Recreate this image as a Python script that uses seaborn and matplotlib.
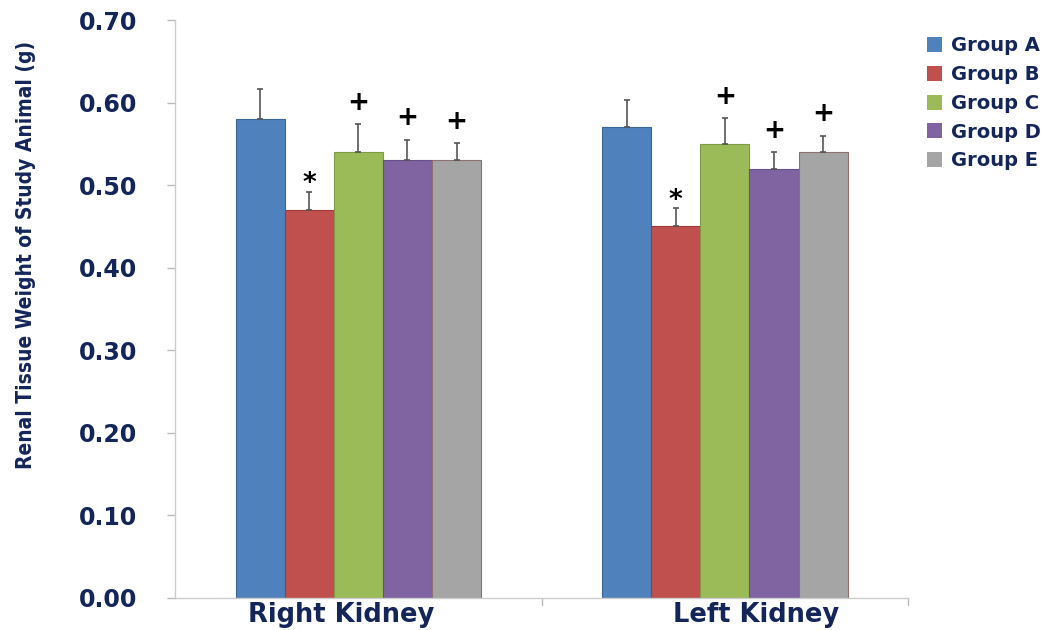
import pandas as pd
import matplotlib.pyplot as plt
import matplotlib.transforms as mtransforms
import seaborn as sns
from matplotlib.patches import Patch

# ======================
# Data
# ======================
KIDNEYS = ["Right Kidney", "Left Kidney"]
GROUPS = ["Group A", "Group B", "Group C", "Group D", "Group E"]

RIGHT_MEAN = [0.58, 0.47, 0.54, 0.53, 0.53]
RIGHT_SD = [0.036, 0.022, 0.034, 0.025, 0.021]
LEFT_MEAN = [0.57, 0.45, 0.55, 0.52, 0.54]
LEFT_SD = [0.033, 0.022, 0.031, 0.020, 0.020]

RIGHT_MARK = ["", "*", "+", "+", "+"]
LEFT_MARK = ["", "*", "+", "+", "+"]

Y_TICKS = [0.0, 0.1, 0.2, 0.3, 0.4, 0.5, 0.6, 0.7]

# ======================
# Style
# ======================
COLORS = ["#4F81BD", "#C0504D", "#9BBB59", "#8064A2", "#A5A5A5"]
EDGES = ["#3A6796", "#9E3B38", "#7F9A46", "#66508A", "#8E7070"]
NAVY = "#14255A"
PALETTE = dict(zip(GROUPS, COLORS))

df = pd.DataFrame({
    "kidney": [k for k in KIDNEYS for _ in GROUPS],
    "group": GROUPS * 2,
    "weight": RIGHT_MEAN + LEFT_MEAN,
    "sd": RIGHT_SD + LEFT_SD,
    "mark": RIGHT_MARK + LEFT_MARK,
})

sns.set_style("white")
plt.rcParams["font.family"] = ["DejaVu Sans"]

fig = plt.figure(figsize=(10.45, 6.3), dpi=100)
ax = fig.add_axes([0.1675, 0.051, 0.7015, 0.917])

sns.barplot(data=df, x="kidney", y="weight", hue="group", order=KIDNEYS,
            hue_order=GROUPS, palette=PALETTE, width=0.67, gap=0,
            errorbar=None, saturation=1, ax=ax, legend=False)

# edges, error bars and significance marks
bar_containers = list(ax.containers)
for gi, cont in enumerate(bar_containers):
    g = GROUPS[gi]
    for ki, bar in enumerate(cont):
        bar.set_edgecolor(EDGES[gi])
        bar.set_linewidth(0.8)
        row = df[(df["group"] == g) & (df["kidney"] == KIDNEYS[ki])].iloc[0]
        xc = bar.get_x() + bar.get_width() / 2
        h = bar.get_height()
        ax.errorbar(xc, h, yerr=[[0], [row["sd"]]], fmt="none",
                    ecolor="#555555", elinewidth=1.2, capsize=2.5, capthick=1.2,
                    zorder=3)
        if row["mark"]:
            off = -4 if row["mark"] == "*" else 6
            ax.annotate(row["mark"], (xc, h + row["sd"]), xytext=(0, off),
                        textcoords="offset points", ha="center", va="bottom",
                        fontsize=19, fontweight="bold", color="black")

ax.set_ylim(0, 0.7)
ax.set_xlim(-0.5, 1.5)
ax.set_yticks(Y_TICKS)
ax.set_yticklabels([f"{v:.2f}" for v in Y_TICKS], fontsize=17,
                   fontweight="bold", color=NAVY)
ax.set_xticks([0, 1])
ax.set_xticklabels(KIDNEYS, fontsize=18.5, fontweight="bold", color=NAVY)
ax.tick_params(axis="x", length=0, pad=3)
ax.tick_params(axis="y", length=6, color="#BBBBBB", width=1, pad=21,
               left=True, direction="out")
ax.set_xlabel("")
ax.set_ylabel("Renal Tissue Weight of Study Animal (g)",
              fontsize=15, fontweight="bold", color=NAVY,
              fontstretch="condensed")
ax.yaxis.set_label_coords(-0.19, 0.593)

# category labels slightly off-centre as in the original
shifts = [-17, 31]
for lab, dx in zip(ax.get_xticklabels(), shifts):
    lab.set_transform(lab.get_transform() +
                      mtransforms.ScaledTranslation(dx / 100, 0, fig.dpi_scale_trans))

# separator tick between categories
ax.axvline(0.5, ymin=-0.012, ymax=0, color="#BBBBBB", lw=1, clip_on=False)
ax.axvline(1.5, ymin=-0.012, ymax=0, color="#BBBBBB", lw=1, clip_on=False)

for side in ["top", "right"]:
    ax.spines[side].set_visible(False)
for side in ["left", "bottom"]:
    ax.spines[side].set_color("#CCCCCC")
    ax.spines[side].set_linewidth(1)

handles = [Patch(facecolor=c, edgecolor="none") for c in COLORS]
leg = fig.legend(handles, GROUPS, loc="upper left", bbox_to_anchor=(0.87, 0.97),
                 frameon=False, handlelength=0.8, handleheight=0.8,
                 handletextpad=0.45, labelspacing=0.5,
                 prop={"size": 14, "weight": "bold"})
for t in leg.get_texts():
    t.set_color(NAVY)

plt.savefig("out.png", dpi=100)
